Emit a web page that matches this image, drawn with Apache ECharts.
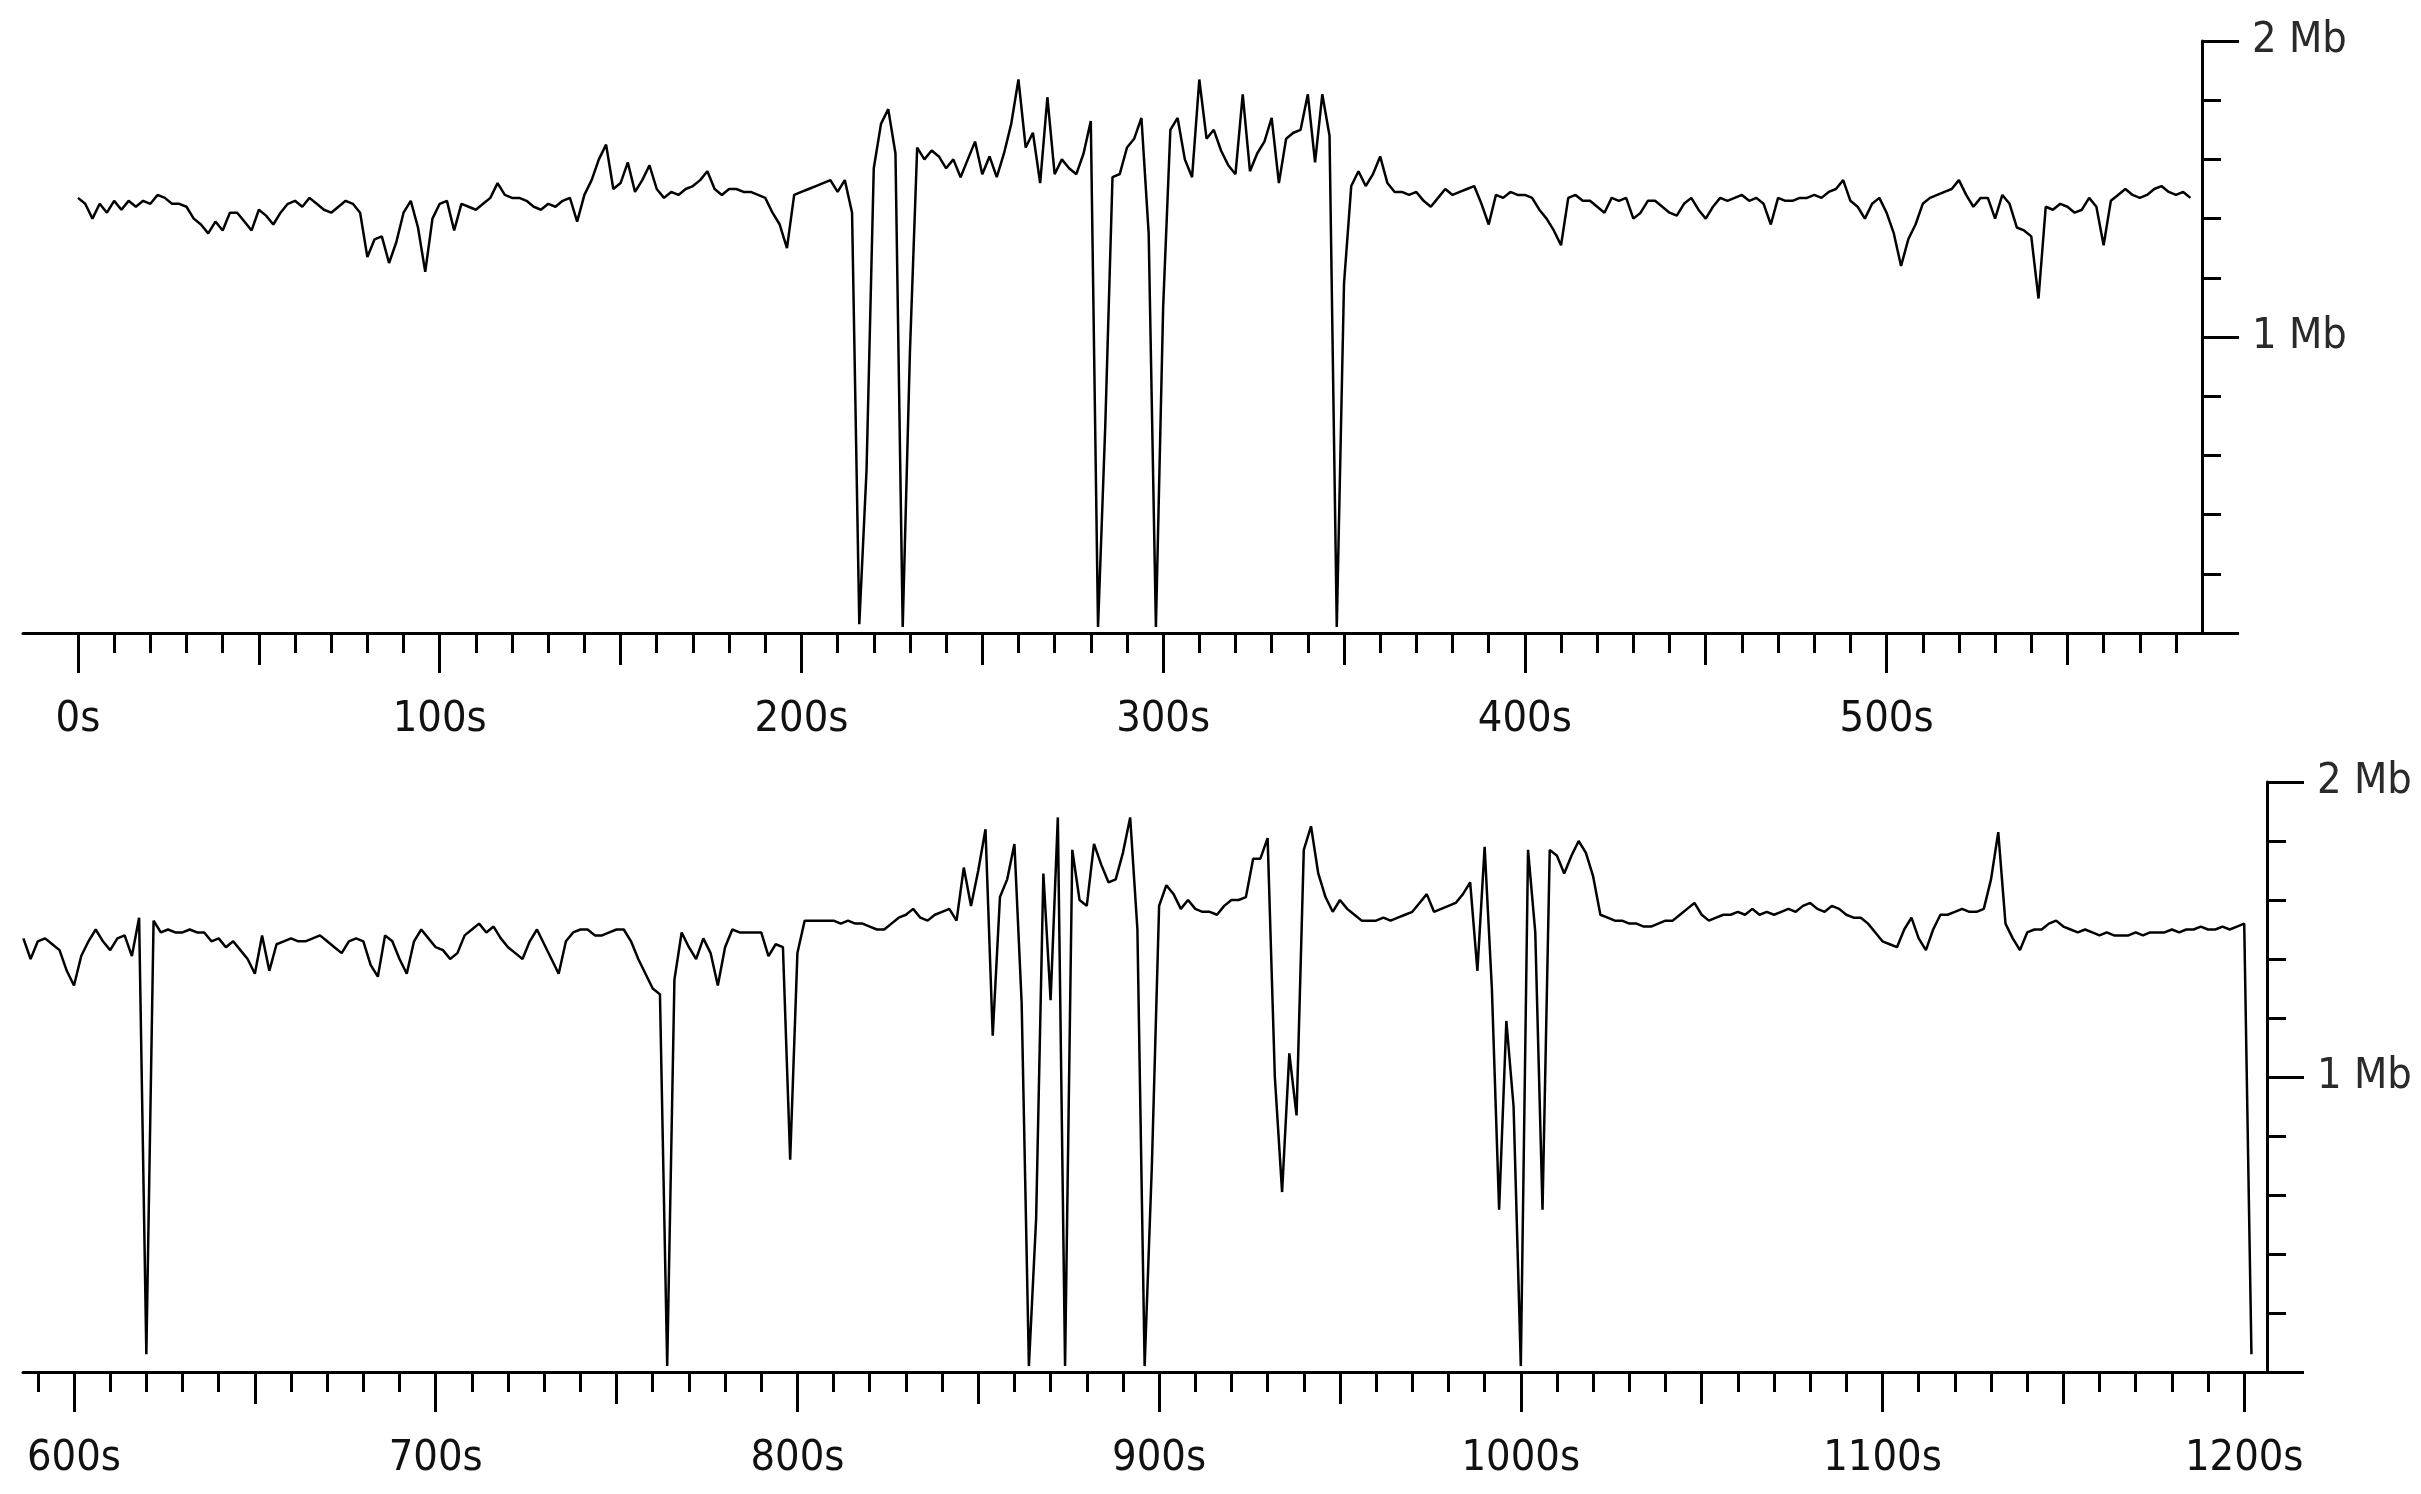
<!DOCTYPE html>
<html>
<head>
<meta charset="utf-8">
<script src="https://cdn.jsdelivr.net/npm/echarts@6/dist/echarts.min.js"></script>
<style>
html,body{margin:0;padding:0;background:#fff;}
#chart{width:2421px;height:1494px;}
</style>
</head>
<body>
<div id="chart"></div>
<script>
// ---- data (Mb per second sample, one sample every 2 s) ----
const topStart = 0;      // seconds
const bottomStart = 586; // seconds
const sampleStep = 2;    // seconds

const topValues = [
1.47,1.45,1.40,1.45,1.42,1.46,1.43,1.46,1.44,1.46,
1.45,1.48,1.47,1.45,1.45,1.44,1.40,1.38,1.35,1.39,
1.36,1.42,1.42,1.39,1.36,1.43,1.41,1.38,1.42,1.45,
1.46,1.44,1.47,1.45,1.43,1.42,1.44,1.46,1.45,1.42,
1.27,1.33,1.34,1.25,1.32,1.42,1.46,1.37,1.22,1.40,
1.45,1.46,1.36,1.45,1.44,1.43,1.45,1.47,1.52,1.48,
1.47,1.47,1.46,1.44,1.43,1.45,1.44,1.46,1.47,1.39,
1.48,1.53,1.60,1.65,1.50,1.52,1.59,1.49,1.53,1.58,
1.50,1.47,1.49,1.48,1.50,1.51,1.53,1.56,1.50,1.48,
1.50,1.50,1.49,1.49,1.48,1.47,1.42,1.38,1.30,1.48,
1.49,1.50,1.51,1.52,1.53,1.49,1.53,1.42,0.03,0.55,
1.57,1.72,1.77,1.62,0.02,0.95,1.64,1.60,1.63,1.61,
1.57,1.60,1.54,1.60,1.66,1.55,1.61,1.54,1.62,1.72,
1.87,1.64,1.69,1.52,1.81,1.55,1.60,1.57,1.55,1.62,
1.73,0.02,0.70,1.54,1.55,1.64,1.67,1.74,1.35,0.02,
1.10,1.70,1.74,1.60,1.54,1.87,1.67,1.70,1.63,1.58,
1.55,1.82,1.56,1.62,1.66,1.74,1.52,1.67,1.69,1.70,
1.82,1.59,1.82,1.68,0.02,1.18,1.51,1.56,1.51,1.55,
1.61,1.52,1.49,1.49,1.48,1.49,1.46,1.44,1.47,1.50,
1.48,1.49,1.50,1.51,1.45,1.38,1.48,1.47,1.49,1.48,
1.48,1.47,1.43,1.40,1.36,1.31,1.47,1.48,1.46,1.46,
1.44,1.42,1.47,1.46,1.47,1.40,1.42,1.46,1.46,1.44,
1.42,1.41,1.45,1.47,1.43,1.40,1.44,1.47,1.46,1.47,
1.48,1.46,1.47,1.45,1.38,1.47,1.46,1.46,1.47,1.47,
1.48,1.47,1.49,1.50,1.53,1.46,1.44,1.40,1.45,1.47,
1.42,1.35,1.24,1.33,1.38,1.45,1.47,1.48,1.49,1.50,
1.53,1.48,1.44,1.47,1.47,1.40,1.48,1.45,1.37,1.36,
1.34,1.13,1.44,1.43,1.45,1.44,1.42,1.43,1.47,1.44,
1.31,1.46,1.48,1.50,1.48,1.47,1.48,1.50,1.51,1.49,
1.48,1.49,1.47
];

const bottomValues = [
1.47,1.40,1.46,1.47,1.45,1.43,1.36,1.31,1.41,1.46,
1.50,1.46,1.43,1.47,1.48,1.41,1.54,0.06,1.53,1.49,
1.50,1.49,1.49,1.50,1.49,1.49,1.46,1.47,1.44,1.46,
1.43,1.40,1.35,1.48,1.36,1.45,1.46,1.47,1.46,1.46,
1.47,1.48,1.46,1.44,1.42,1.46,1.47,1.46,1.38,1.34,
1.48,1.46,1.40,1.35,1.46,1.50,1.47,1.44,1.43,1.40,
1.42,1.48,1.50,1.52,1.49,1.51,1.47,1.44,1.42,1.40,
1.46,1.50,1.45,1.40,1.35,1.46,1.49,1.50,1.50,1.48,
1.48,1.49,1.50,1.50,1.46,1.40,1.35,1.30,1.28,0.02,
1.33,1.49,1.44,1.40,1.47,1.42,1.31,1.44,1.50,1.49,
1.49,1.49,1.49,1.41,1.45,1.44,0.72,1.42,1.53,1.53,
1.53,1.53,1.53,1.52,1.53,1.52,1.52,1.51,1.50,1.50,
1.52,1.54,1.55,1.57,1.54,1.53,1.55,1.56,1.57,1.53,
1.71,1.58,1.70,1.84,1.14,1.61,1.67,1.79,1.25,0.02,
0.52,1.69,1.26,1.88,0.02,1.77,1.60,1.58,1.79,1.72,
1.66,1.67,1.76,1.88,1.50,0.02,0.70,1.58,1.65,1.62,
1.57,1.60,1.57,1.56,1.56,1.55,1.58,1.60,1.60,1.61,
1.74,1.74,1.81,1.00,0.61,1.08,0.87,1.77,1.85,1.69,
1.61,1.56,1.60,1.57,1.55,1.53,1.53,1.53,1.54,1.53,
1.54,1.55,1.56,1.59,1.62,1.56,1.57,1.58,1.59,1.62,
1.66,1.36,1.78,1.30,0.55,1.19,0.90,0.02,1.77,1.49,
0.55,1.77,1.75,1.69,1.75,1.80,1.76,1.68,1.55,1.54,
1.53,1.53,1.52,1.52,1.51,1.51,1.52,1.53,1.53,1.55,
1.57,1.59,1.55,1.53,1.54,1.55,1.55,1.56,1.55,1.57,
1.55,1.56,1.55,1.56,1.57,1.56,1.58,1.59,1.57,1.56,
1.58,1.57,1.55,1.54,1.54,1.52,1.49,1.46,1.45,1.44,
1.50,1.54,1.47,1.43,1.50,1.55,1.55,1.56,1.57,1.56,
1.56,1.57,1.67,1.83,1.52,1.47,1.43,1.49,1.50,1.50,
1.52,1.53,1.51,1.50,1.49,1.50,1.49,1.48,1.49,1.48,
1.48,1.48,1.49,1.48,1.49,1.49,1.49,1.50,1.49,1.50,
1.50,1.51,1.50,1.50,1.51,1.50,1.51,1.52,0.06
];

// axis ranges (seconds / Mb)
const topRange = [-15.2, 587.2];
const bottomRange = [585.9, 1206.3];
const yRange = [0, 2];

// tick labels (seconds)
const topMajorTicks = [0, 100, 200, 300, 400, 500];
const topMidTicks = [50, 150, 250, 350, 450, 550];
const bottomMajorTicks = [600, 700, 800, 900, 1000, 1100, 1200];
const bottomMidTicks = [650, 750, 850, 950, 1050, 1150];
function tens(a, b) { const r = []; for (let v = a; v <= b; v += 10) r.push(v); return r; }
const topMinorTicks = tens(0, 580);
const bottomMinorTicks = tens(590, 1200);
const yUnit = ' Mb';
const xUnit = 's';

// ---- chart ----
const FONT = "'DejaVu Sans Condensed', 'Liberation Sans Narrow', 'DejaVu Sans', sans-serif";
const BLACK = '#000';

function pairs(start, vals) { return vals.map((v, i) => [start + i * sampleStep, v]); }

function xAxesFor(gridIndex, range, major, mid, minor) {
  const base = {
    type: 'value', gridIndex, min: range[0], max: range[1], position: 'bottom',
    splitLine: { show: false }, minorSplitLine: { show: false }
  };
  return [
    Object.assign({}, base, {
      axisLine: { show: true, onZero: false, lineStyle: { color: BLACK, width: 3 } },
      axisTick: { show: true, customValues: major, length: 40, lineStyle: { color: BLACK, width: 3 } },
      axisLabel: { show: true, customValues: major, formatter: v => v + xUnit, margin: 65,
        fontFamily: FONT, fontSize: 43, color: '#111' }
    }),
    Object.assign({}, base, {
      axisLine: { show: false },
      axisTick: { show: true, customValues: mid, length: 32, lineStyle: { color: BLACK, width: 3 } },
      axisLabel: { show: false, customValues: mid }
    }),
    Object.assign({}, base, {
      axisLine: { show: false },
      axisTick: { show: true, customValues: minor, length: 20, lineStyle: { color: BLACK, width: 3 } },
      axisLabel: { show: false, customValues: minor }
    })
  ];
}

function yAxisFor(gridIndex) {
  return {
    type: 'value', gridIndex, position: 'right', min: yRange[0], max: yRange[1], interval: 1,
    splitLine: { show: false }, minorSplitLine: { show: false },
    axisLine: { show: true, onZero: false, lineStyle: { color: BLACK, width: 3 } },
    axisTick: { show: true, length: 37, lineStyle: { color: BLACK, width: 3 } },
    minorTick: { show: true, splitNumber: 5, length: 19, lineStyle: { color: BLACK, width: 3 } },
    axisLabel: { show: true, margin: 50, formatter: v => v === 0 ? '' : v + yUnit,
      fontFamily: FONT, fontSize: 43, color: '#2a2a2a', padding: [8, 0, 0, 0] }
  };
}

const chart = echarts.init(document.getElementById('chart'), null, { renderer: 'canvas' });
chart.setOption({
  backgroundColor: '#ffffff',
  animation: false,
  grid: [
    { left: 23, top: 41, width: 2179, height: 592, containLabel: false },
    { left: 23, top: 782, width: 2244, height: 590, containLabel: false }
  ],
  xAxis: [].concat(
    xAxesFor(0, topRange, topMajorTicks, topMidTicks, topMinorTicks),
    xAxesFor(1, bottomRange, bottomMajorTicks, bottomMidTicks, bottomMinorTicks)
  ),
  yAxis: [yAxisFor(0), yAxisFor(1)],
  series: [
    { type: 'line', xAxisIndex: 0, yAxisIndex: 0, data: pairs(topStart, topValues),
      showSymbol: false, symbol: 'none', silent: true,
      lineStyle: { color: BLACK, width: 2.5, join: 'bevel' } },
    { type: 'line', xAxisIndex: 3, yAxisIndex: 1, data: pairs(bottomStart, bottomValues),
      showSymbol: false, symbol: 'none', silent: true,
      lineStyle: { color: BLACK, width: 2.5, join: 'bevel' } }
  ]
});
</script>
</body>
</html>
